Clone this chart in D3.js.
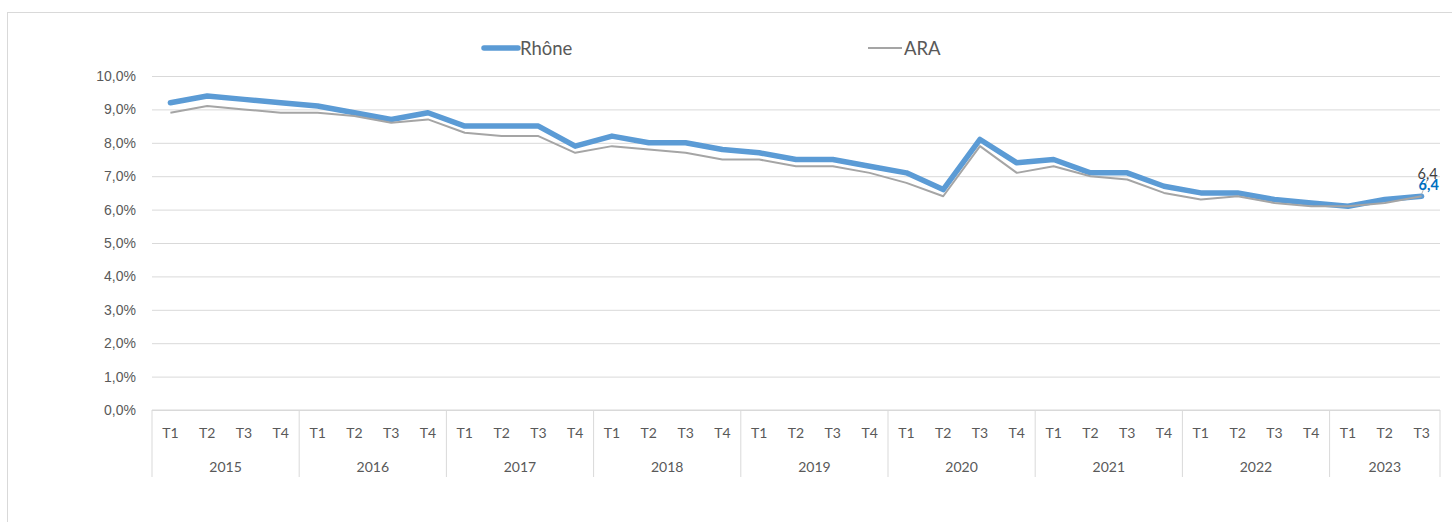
<!DOCTYPE html>
<html>
<head>
<meta charset="utf-8">
<script src="https://cdn.jsdelivr.net/npm/d3@7"></script>
<style>
  body { margin: 0; background: #fff; }
  svg { font-family: Lato, "Open Sans", sans-serif; }
</style>
</head>
<body>
<svg id="chart" width="1452" height="522"></svg>
<script>
const years = ['2015', '2016', '2017', '2018', '2019', '2020', '2021', '2022', '2023'];
const quarters = ['T1', 'T2', 'T3', 'T4'];
const rhone = [9.2, 9.4, 9.3, 9.2, 9.1, 8.9, 8.7, 8.9, 8.5, 8.5, 8.5, 7.9, 8.2, 8.0, 8.0, 7.8,
  7.7, 7.5, 7.5, 7.3, 7.1, 6.6, 8.1, 7.4, 7.5, 7.1, 7.1, 6.7, 6.5, 6.5, 6.3, 6.2, 6.1, 6.3, 6.4];
const ara = [8.9, 9.1, 9.0, 8.9, 8.9, 8.8, 8.6, 8.7, 8.3, 8.2, 8.2, 7.7, 7.9, 7.8, 7.7, 7.5,
  7.5, 7.3, 7.3, 7.1, 6.8, 6.4, 7.9, 7.1, 7.3, 7.0, 6.9, 6.5, 6.3, 6.4, 6.2, 6.1, 6.1, 6.2, 6.4];
const yTicks = [0, 1, 2, 3, 4, 5, 6, 7, 8, 9, 10];

// build the category list year/quarter
const cats = [];
years.forEach((y) => quarters.forEach((q) => {
  if (cats.length < rhone.length) cats.push({ key: y + q, year: y, q: q });
}));

const svg = d3.select('#chart');
const plotLeft = 152, plotRight = 1440, plotTop = 76, plotBottom = 410;

const x = d3.scaleBand().domain(cats.map((d) => d.key)).range([plotLeft, plotRight]);
const y = d3.scaleLinear().domain([0, 10]).range([plotBottom, plotTop]);
const fmt = (v) => v.toFixed(1).replace('.', ',');

// chart frame
svg.append('rect').attr('x', 7.5).attr('y', 12.5).attr('width', 1460).attr('height', 530)
  .attr('fill', 'none').attr('stroke', '#d9d9d9');

// gridlines + y labels
const yAxis = d3.axisLeft(y).tickValues(yTicks).tickSize(-(plotRight - plotLeft)).tickPadding(16)
  .tickFormat((d) => fmt(d) + '%');
const gy = svg.append('g').attr('transform', `translate(${plotLeft},0)`).call(yAxis);
gy.select('.domain').remove();
gy.selectAll('line').attr('stroke', '#d9d9d9');
gy.selectAll('text').attr('fill', '#595959').attr('font-size', 14);

// category axis: quarters + years
const gx = svg.append('g');
gx.append('line').attr('x1', plotLeft).attr('x2', plotRight).attr('y1', plotBottom).attr('y2', plotBottom)
  .attr('stroke', '#d9d9d9');
gx.selectAll('.q').data(cats).join('text').attr('class', 'q')
  .attr('x', (d) => x(d.key) + x.bandwidth() / 2).attr('y', 438)
  .attr('text-anchor', 'middle').attr('fill', '#595959').attr('font-size', 14)
  .text((d) => d.q);
const yearGroups = years.map((yr) => {
  const ks = cats.filter((c) => c.year === yr);
  return { year: yr, x0: x(ks[0].key), x1: x(ks[ks.length - 1].key) + x.bandwidth() };
});
gx.selectAll('.yl').data(yearGroups).join('text').attr('class', 'yl')
  .attr('x', (d) => (d.x0 + d.x1) / 2).attr('y', 471.5)
  .attr('text-anchor', 'middle').attr('fill', '#595959').attr('font-size', 14)
  .text((d) => d.year);
const bounds = yearGroups.map((d) => d.x0).concat([plotRight]);
gx.selectAll('.sep').data(bounds).join('line').attr('class', 'sep')
  .attr('x1', (d) => d).attr('x2', (d) => d).attr('y1', plotBottom).attr('y2', 477)
  .attr('stroke', '#d9d9d9');

// lines
const line = d3.line().x((d, i) => x(cats[i].key) + x.bandwidth() / 2).y((d) => y(d));
svg.append('path').datum(rhone).attr('d', line).attr('fill', 'none')
  .attr('stroke', '#5b9bd5').attr('stroke-width', 5.5)
  .attr('stroke-linejoin', 'round').attr('stroke-linecap', 'round');
svg.append('path').datum(ara).attr('d', line).attr('fill', 'none')
  .attr('stroke', '#a5a5a5').attr('stroke-width', 2).attr('stroke-linejoin', 'round');

// end labels (they overlap in the original too)
const last = rhone.length - 1;
const lx = x(cats[last].key) + x.bandwidth() / 2;
svg.append('line').attr('x1', lx).attr('y1', y(ara[last]) - 2).attr('x2', lx + 6).attr('y2', 179)
  .attr('stroke', '#a5a5a5').attr('stroke-width', 0.8);
svg.append('text').attr('x', lx - 4).attr('y', 179).attr('fill', '#404040').attr('font-size', 14.5)
  .text(fmt(ara[last]));
svg.append('text').attr('x', lx - 3).attr('y', 190).attr('fill', '#0070c0').attr('font-size', 14.5)
  .attr('font-weight', 'bold').text(fmt(rhone[last]));

// legend
const legend = [
  { name: 'Rhône', color: '#5b9bd5', w: 5.5, x: 484 },
  { name: 'ARA', color: '#a5a5a5', w: 2, x: 868 },
];
const lg = svg.selectAll('.lg').data(legend).join('g').attr('class', 'lg')
  .attr('transform', (d) => `translate(${d.x},48)`);
lg.append('line').attr('x1', 0).attr('x2', 34).attr('stroke', (d) => d.color)
  .attr('stroke-width', (d) => d.w).attr('stroke-linecap', (d) => d.w > 3 ? 'round' : 'butt');
lg.append('text').attr('x', 36).attr('y', 6.5).attr('fill', '#595959').attr('font-size', 18.5)
  .text((d) => d.name);
</script>
</body>
</html>
